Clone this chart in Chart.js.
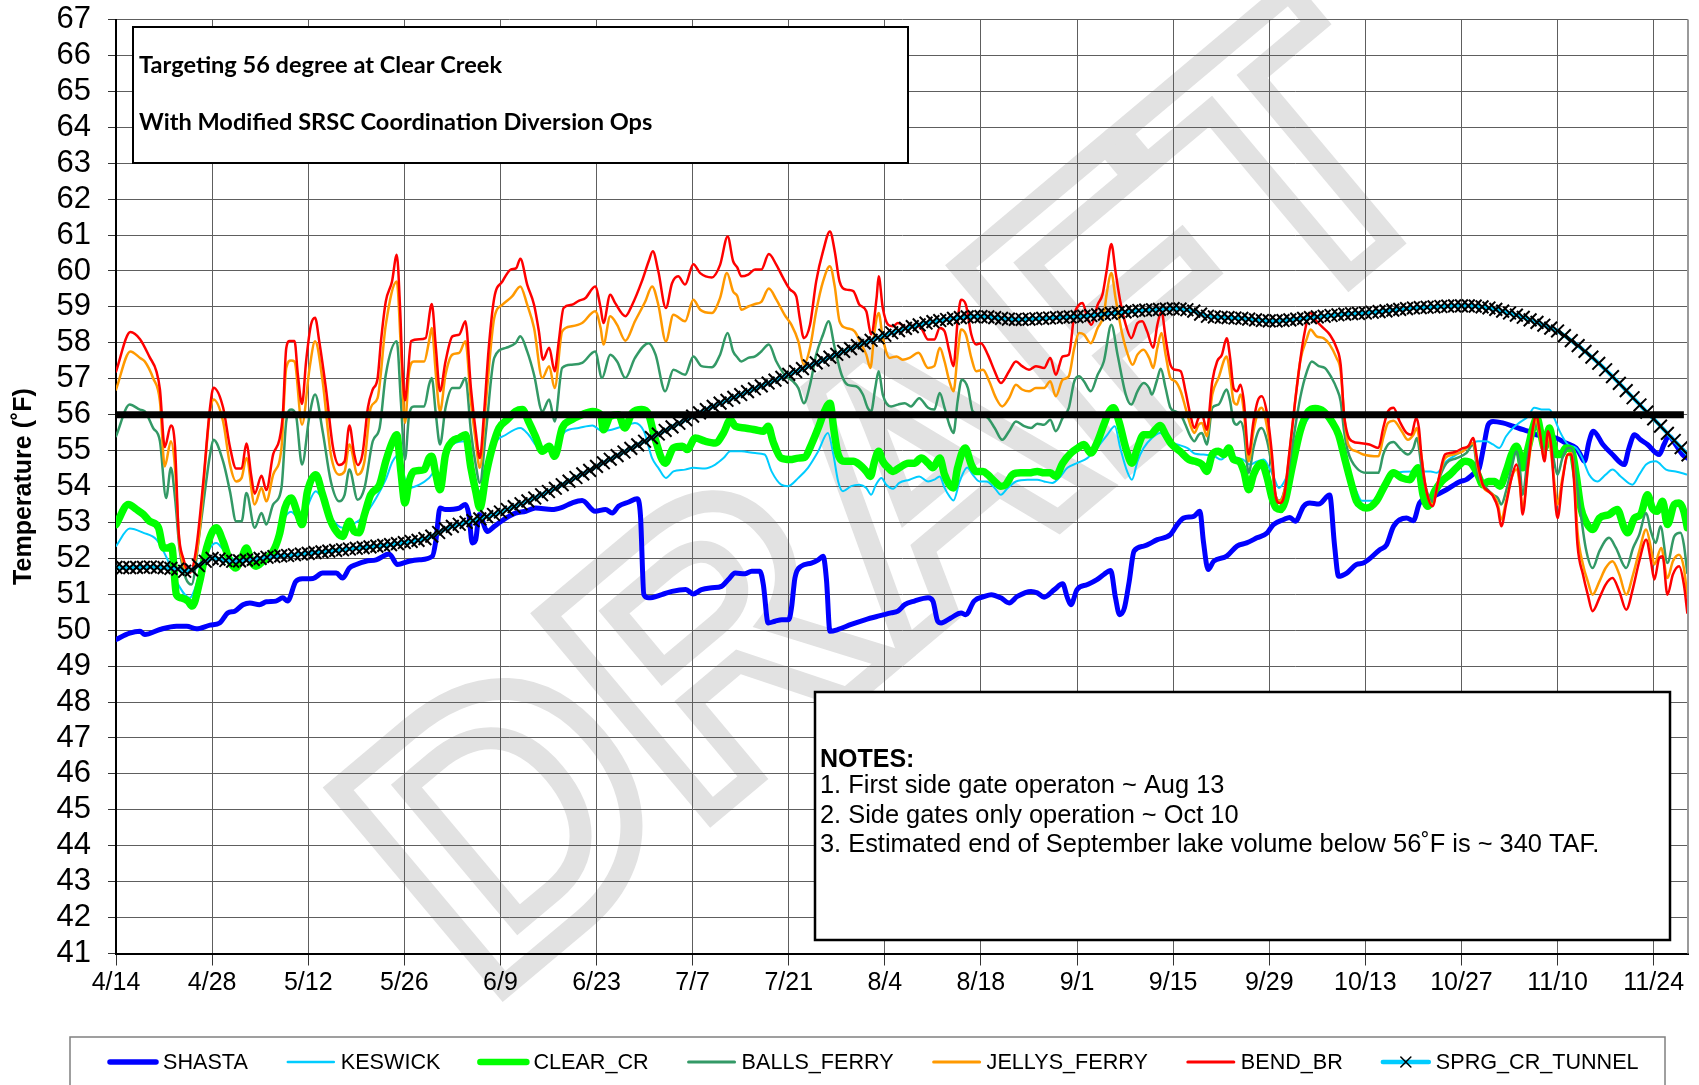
<!DOCTYPE html>
<html>
<head>
<meta charset="utf-8">
<title>Temperature forecast</title>
<script src="https://cdn.jsdelivr.net/npm/chart.js@4.4.1/dist/chart.umd.min.js"></script>
<style>
  html, body { margin: 0; padding: 0; background: #ffffff; }
  canvas { display: block; }
</style>
</head>
<body>
<canvas id="chart" width="1699" height="1085"></canvas>
<script>
// ---------------- DATA ----------------
// x values are days after 4/14 (day 0 = 4/14)
const tickDays   = [0, 14, 28, 42, 56, 70, 84, 98, 112, 126, 140, 154, 168, 182, 196, 210, 224];
const tickLabels = ['4/14','4/28','5/12','5/26','6/9','6/23','7/7','7/21','8/4','8/18','9/1','9/15','9/29','10/13','10/27','11/10','11/24'];
const yTickValues = [41,42,43,44,45,46,47,48,49,50,51,52,53,54,55,56,57,58,59,60,61,62,63,64,65,66,67];

const seriesNames = ['SHASTA','KESWICK','CLEAR_CR','BALLS_FERRY','JELLYS_FERRY','BEND_BR','SPRG_CR_TUNNEL'];

const SHASTA = [[0,49.74],[2,49.92],[3.5,49.97],[4.2,49.88],[6.4,50.02],[8.8,50.11],[10.3,50.11],[11.7,50.04],[13.7,50.14],[15.1,50.2],[16.3,50.48],[17.3,50.53],[18.5,50.71],[19.5,50.76],[20.9,50.71],[21.9,50.79],[23.3,50.81],[24.3,50.9],[25,50.81],[26.2,51.36],[27.2,51.43],[28.7,51.44],[30.1,51.59],[32.1,51.59],[33,51.45],[34,51.73],[35,51.83],[36.4,51.92],[37.9,51.96],[39.8,52.12],[41,51.83],[42.7,51.92],[44.2,51.96],[46.1,52.06],[46.6,52.5],[47.2,53.4],[48,53.36],[50,53.4],[50.9,53.5],[51.4,53.22],[51.9,52.43],[52.4,52.52],[52.9,53.22],[54.1,52.75],[55.1,52.89],[56.8,53.12],[58.2,53.26],[59.7,53.31],[61.1,53.4],[63.5,53.36],[65,53.42],[66.4,53.54],[67.9,53.61],[69.8,53.31],[71.3,53.36],[72.3,53.26],[73.2,53.45],[74.7,53.57],[75.9,53.66],[76.4,53.2],[76.9,50.99],[77.6,50.9],[79.5,50.99],[81,51.08],[83,51.13],[84.1,51.01],[85.3,51.13],[86.8,51.18],[88.2,51.22],[89.2,51.41],[90.2,51.59],[91.6,51.57],[92.6,51.64],[93.8,51.64],[94.3,51.27],[95,50.2],[96,50.25],[97,50.29],[98,50.29],[98.4,50.62],[98.9,51.45],[99.8,51.78],[101.3,51.87],[102.3,51.96],[103,52.06],[103.5,51.4],[104,49.97],[105.2,50.02],[107.1,50.16],[109.1,50.29],[111,50.39],[112.9,50.48],[113.9,50.53],[114.9,50.71],[116.3,50.81],[118.3,50.9],[119,50.81],[119.7,50.25],[120.2,50.2],[121.6,50.34],[123.1,50.48],[123.8,50.43],[125,50.81],[126.5,50.94],[127.5,50.99],[128.9,50.9],[130.1,50.76],[131.3,50.94],[133.3,51.08],[134.2,51.04],[135.2,50.92],[136.7,51.13],[137.9,51.29],[138.6,50.9],[139.1,50.71],[140,51.13],[141.5,51.27],[142.9,51.41],[143.9,51.55],[144.9,51.66],[145.6,50.9],[146.2,50.43],[146.9,50.62],[147.6,51.36],[148.3,52.2],[149.7,52.34],[151.7,52.52],[153.6,52.66],[154.6,52.94],[155.5,53.12],[157,53.17],[157.9,53.31],[158.4,52.48],[159.1,51.69],[159.9,51.92],[161.8,52.06],[163.3,52.34],[164.7,52.43],[166.2,52.57],[167.7,52.71],[168.6,52.94],[170.1,53.08],[171,53.14],[171.8,53.03],[173,53.45],[173.9,53.54],[175.2,53.51],[176.8,53.76],[177.5,52.38],[178.1,51.5],[179.3,51.59],[180.7,51.83],[181.7,51.87],[184.1,52.24],[185.1,52.38],[186.1,52.89],[188,53.12],[189,53.05],[189.9,53.54],[191.9,53.73],[193.8,53.91],[195.8,54.14],[196.7,54.19],[197.9,54.38],[198.6,54.52],[199.2,55.07],[199.9,55.72],[200.6,55.81],[202,55.77],[203.5,55.68],[205,55.58],[205.7,55.54],[206.9,55.44],[208.3,55.4],[209.8,55.35],[211.2,55.21],[212.7,55.07],[213.2,54.93],[213.9,54.7],[214.6,55.26],[215.2,55.54],[216.6,55.17],[218,54.89],[219.7,54.61],[220.4,55.07],[221.2,55.44],[222.1,55.3],[223.1,55.17],[224.8,54.89],[225.5,55.17],[226.2,55.4],[227.2,55.17],[228.2,54.89],[228.9,54.79]];

const KESWICK = [[0,52.34],[2,52.83],[4,52.71],[5.9,52.52],[7.4,52.01],[8.8,51.36],[10.75,50.9],[12.2,51.55],[13.7,52.29],[14.6,52.43],[16,52.15],[17.5,51.95],[19,52.05],[20.5,51.95],[22,52.1],[23.5,52.5],[24.5,53.1],[25.5,53.3],[26.5,53.15],[27.5,53.3],[29.1,53.87],[30.2,53.6],[31.5,53.1],[33,52.85],[34.5,52.95],[36,53.15],[37.9,53.68],[39.3,54.2],[40.3,54.7],[41.3,54.89],[42.1,54.2],[42.7,53.96],[44.2,54.05],[45.6,54.24],[46.5,54.42],[47.2,54.2],[48,54.7],[49,55.17],[50.9,55.26],[51.8,54.6],[53,53.87],[54,54.5],[55.1,55.17],[56.8,55.44],[58.9,55.63],[60.1,55.44],[61.6,55.07],[63.5,55.03],[65.5,55.54],[67.4,55.63],[69.4,55.7],[70.8,55.54],[72.2,55.58],[74.2,55.7],[75.6,55.77],[76.9,55.54],[78.1,54.79],[79,54.52],[80.1,54.24],[81.2,54.42],[82.9,54.47],[84.1,54.52],[85.8,54.5],[87.3,54.61],[88.5,54.79],[89.5,54.98],[91.1,54.98],[93.1,54.93],[94.5,54.89],[95.5,54.42],[96.9,54.05],[97.9,54.01],[99.4,54.24],[100.8,54.52],[102.3,54.98],[103.7,55.49],[104.5,54.89],[105.2,54.14],[105.9,53.87],[107.1,54.01],[108.3,54.05],[109.3,53.96],[110,53.77],[110.7,54.05],[111.5,54.24],[112.2,54.05],[113.2,53.94],[114.1,54.1],[115.6,54.19],[117,54.28],[118.3,54.14],[119.2,54.19],[120,54.28],[120.7,53.96],[121.4,53.73],[122,53.61],[122.9,54.14],[124,54.53],[124.8,54.33],[125.8,54.14],[126.8,54.14],[128,53.96],[128.9,53.77],[129.9,53.96],[131.1,54.14],[132.8,54.19],[134.2,54.19],[135.2,54.14],[136.4,54.1],[137.4,54.24],[138.6,54.52],[140,54.65],[141.5,54.79],[142.9,55.07],[144.4,55.44],[145.5,55.68],[146.3,55.07],[147.3,54.42],[148,54.19],[148.8,54.7],[149.7,55.07],[150.9,55.35],[152.1,55.49],[153.4,55.26],[154.6,55.17],[156.1,55.07],[157.2,54.91],[158.4,54.89],[160,54.84],[161,54.75],[162,54.89],[163.3,54.8],[164.2,54.75],[165.2,54.61],[166.2,54.7],[167.2,54.75],[168,54.52],[168.7,54.24],[169.4,53.96],[170.2,54.14],[171.2,54.61],[172.2,55.26],[173.4,55.81],[174.9,56.09],[175.9,56.07],[176.8,55.91],[177.8,55.54],[179,54.89],[180,54.24],[180.7,53.87],[181.5,53.6],[183,53.6],[184.5,54.0],[186.5,54.38],[189,54.42],[191.5,54.42],[192.4,54.38],[193.8,54.7],[195.3,54.89],[196.7,55.07],[198.4,55.26],[199.6,55.26],[200.6,55.17],[201.5,55.07],[202.5,55.4],[203.5,55.63],[204.4,55.77],[205.7,55.95],[206.6,56.19],[207.9,56.14],[208.8,56.14],[209.5,55.91],[210.3,55.54],[211.5,55.17],[212.7,55.07],[213.6,54.79],[214.6,54.33],[215.8,54.14],[217,54.33],[218,54.47],[219.2,54.28],[220.9,54.05],[221.9,54.33],[222.9,54.61],[224.3,54.7],[225.8,54.47],[227.2,54.42],[228.9,54.33]];

const CLEAR_CR = [[0,52.94],[1.8,53.5],[3,53.36],[4,53.22],[4.9,53.03],[6.2,52.85],[6.9,52.29],[7.6,52.29],[8.1,52.34],[8.8,50.99],[9.5,50.9],[10.5,50.81],[11.1,50.67],[12.2,51.36],[13.2,52.29],[14.6,52.85],[15.6,52.47],[16.6,51.92],[17.4,51.73],[18.3,52.01],[19,52.29],[19.7,51.92],[20.4,51.78],[21.4,51.92],[22.9,52.2],[23.8,52.66],[24.6,53.4],[25.5,53.68],[26.5,53.22],[27.1,52.94],[27.9,53.87],[29.1,54.33],[30.1,53.77],[31.3,53.03],[32.5,52.66],[33,52.61],[34,53.03],[34.7,52.75],[35.4,52.71],[36.2,53.22],[37.1,53.77],[38.4,54.05],[39.3,54.7],[40.3,55.26],[40.9,55.44],[41.5,54.42],[42.1,53.54],[42.7,54.14],[43.4,54.42],[44.9,54.47],[45.6,54.79],[46,54.84],[46.6,54.33],[47.2,53.91],[48,54.89],[49,55.26],[50,55.35],[50.9,55.44],[51.7,54.52],[52.4,53.87],[53,53.4],[53.9,54.33],[54.8,55.07],[55.8,55.63],[57,55.86],[58.2,56.09],[59.2,56.14],[60.1,55.81],[61.1,55.4],[62.1,54.98],[63.1,55.12],[63.9,54.84],[65,55.63],[66.4,55.86],[67.9,56],[69.4,56.09],[70.6,56],[71,55.58],[72,55.95],[73.2,56],[74.1,55.63],[75.2,56.05],[76.6,56.14],[77.6,56],[78.5,55.35],[80,54.65],[81.2,55.07],[82.5,55.12],[83.2,55.03],[84.4,55.35],[85.8,55.26],[87.3,55.21],[88.5,55.49],[89.5,55.86],[90.2,55.68],[91.6,55.63],[93.1,55.58],[94.3,55.54],[95,55.68],[95.7,55.26],[96.9,54.79],[98.2,54.75],[99.4,54.79],[100.3,54.81],[101.3,55.17],[102.3,55.63],[103.2,56.09],[104,56.32],[104.6,55.54],[105.2,54.89],[106.2,54.7],[107.4,54.7],[108.3,54.61],[109.3,54.42],[109.9,54.28],[110.5,54.7],[111.1,54.98],[111.7,54.7],[112.5,54.52],[113.2,54.42],[114.1,54.52],[115.4,54.65],[116.3,54.65],[117.3,54.79],[118.3,54.65],[119,54.52],[120,54.79],[120.7,54.33],[121.4,54.05],[122,53.96],[122.6,54.52],[123.7,55.07],[124.6,54.61],[125.3,54.42],[126.3,54.42],[127,54.33],[128,54.14],[128.9,54.01],[129.6,54.05],[130.6,54.33],[131.8,54.38],[133,54.38],[134.2,54.42],[135.2,54.38],[136.1,54.38],[136.9,54.28],[137.9,54.65],[139.1,54.93],[140.1,55.07],[141,55.17],[142,54.93],[143,55.26],[143.9,55.72],[144.7,56.09],[145.3,56.19],[146.1,55.81],[147.1,55.07],[148,54.65],[148.8,55.07],[149.7,55.44],[150.7,55.44],[151.4,55.58],[152.1,55.7],[152.9,55.44],[153.8,55.17],[155,54.98],[156.3,54.75],[157.2,54.7],[158.2,54.61],[158.9,54.42],[159.7,54.89],[160.6,54.98],[161.4,54.89],[162.1,55.07],[162.8,54.75],[163.6,54.7],[164.3,54.42],[165,53.91],[165.7,54.33],[166.5,54.61],[166.9,54.65],[167.7,54.24],[168.4,53.68],[169,53.4],[169.7,53.36],[170.3,53.59],[171.3,54.51],[172.5,55.54],[173.7,56.09],[174.7,56.17],[175.9,56.09],[177.1,55.81],[178.1,55.44],[179.1,54.7],[180,54.05],[180.7,53.6],[181.4,53.45],[182.2,53.4],[183.6,53.59],[184.9,54.05],[186.1,54.38],[187.3,54.24],[188.5,54.19],[189.2,54.42],[189.7,54.52],[190.4,53.77],[191.1,53.45],[192.1,53.87],[193.1,54.14],[194.3,54.33],[195.3,54.52],[196.5,54.7],[197.4,54.65],[198.4,54.33],[199.1,54.05],[199.9,54.14],[200.8,54.14],[201.6,54.01],[202.5,54.42],[203.3,54.89],[204,55.12],[204.5,54.89],[204.9,54.52],[205.7,55.07],[206.4,55.63],[207,55.91],[207.6,55.44],[208.1,55.07],[208.8,55.63],[209.3,55.26],[209.8,54.89],[210.5,54.89],[211.2,55.07],[212,55.03],[212.7,54.33],[213.4,53.4],[214.1,53.03],[215.1,52.8],[216.1,53.12],[217.5,53.22],[218.7,53.36],[219.7,52.85],[220.2,52.71],[221.2,53.12],[222.1,53.22],[223.1,53.77],[223.8,53.4],[224.5,53.31],[225.3,53.59],[226,52.94],[227,53.5],[227.7,53.54],[228.4,53.31],[228.9,52.85]];

const BALLS_FERRY = [[0,55.4],[2,56.28],[3.5,56.14],[4.2,56.09],[5.4,55.63],[6.4,55.26],[7.3,53.68],[8,54.52],[8.6,53.68],[9.3,52.2],[11,51.27],[12.2,52.75],[13.7,54.89],[14.2,55.3],[15.6,54.7],[16.6,53.87],[17.5,53.03],[18.3,53.03],[19,53.82],[20.2,52.85],[21.2,53.26],[21.9,52.94],[22.9,53.5],[24.1,53.96],[24.8,55.81],[25.5,56.14],[26.2,56],[27.1,54.61],[28.2,56],[29,56.56],[30.1,55.54],[31.3,54.14],[32.5,53.59],[33.3,53.77],[34,54.47],[35.2,53.63],[36.2,53.96],[37.4,55.26],[38.4,55.63],[39.3,57.11],[40.9,58.04],[41.5,56.37],[42.1,54.75],[42.7,56],[43.4,56.23],[44.9,56.23],[45.6,56.83],[46,57.02],[46.6,56],[47.2,55.17],[48,56.19],[49,56.74],[50,56.74],[50.9,57.02],[51.7,55.54],[52.4,54.61],[53,54.1],[53.9,55.54],[55.1,57.58],[56.8,57.86],[58.2,57.99],[58.9,58.18],[59.9,57.76],[60.9,57.11],[62.1,56.09],[63.1,56.42],[63.9,55.81],[65,57.3],[66.4,57.39],[67.9,57.44],[69.8,57.76],[70.8,57.02],[72,57.67],[73,57.48],[74.2,57.02],[75.6,57.58],[77.6,57.99],[78.6,57.67],[80,56.65],[81.2,57.25],[82.9,57.11],[84.1,57.62],[85.3,57.35],[86.8,57.32],[88,57.67],[89.1,58.27],[89.9,57.76],[90.5,57.6],[91.1,57.48],[92.1,57.58],[93.1,57.62],[94,57.76],[95.1,57.95],[96.2,57.48],[97.4,57.11],[98.6,56.93],[99.4,56.74],[100.2,56.32],[101.1,56.83],[102,57.67],[103,58.23],[103.8,58.6],[104.7,57.86],[105.7,57.11],[106.6,56.83],[107.8,56.79],[108.8,56.56],[109.5,56.19],[110,56.09],[110.6,56.74],[111.1,57.21],[111.7,56.56],[112.9,56.23],[113.9,56.28],[114.9,56.32],[115.8,56.23],[117,56.46],[118.3,56.19],[119.2,56.14],[120,56.6],[120.7,56.19],[121.4,55.72],[122,55.49],[122.6,56.37],[123.2,56.97],[124.1,56.74],[124.8,56.09],[126,56],[127,55.91],[128,55.63],[129.1,55.3],[130.1,55.54],[131.1,55.81],[132.3,55.68],[133.3,55.63],[134.2,55.75],[135.2,55.72],[136.1,55.86],[136.9,55.54],[137.9,55.91],[138.8,56.19],[139.6,56.93],[140.3,57.07],[141,56.93],[142,56.65],[143,57.11],[143.9,57.48],[145,58.5],[145.9,57.67],[147.1,56.56],[147.9,56.28],[148.8,56.65],[149.7,56.88],[150.5,56.74],[150.9,56.56],[151.6,56.93],[152.2,57.28],[152.9,56.74],[153.6,56.19],[154.3,56.09],[155.1,56],[155.8,55.72],[156.5,55.4],[157.1,55.26],[157.7,55.44],[158.2,55.49],[158.9,55.17],[159.7,56.19],[160.6,56.28],[161.8,56.7],[162.3,56.37],[162.8,55.81],[163.3,55.72],[163.8,55.81],[164.3,55.54],[165,54.38],[165.7,55.07],[166.4,55.54],[166.9,55.63],[167.7,55.26],[168.4,54.52],[168.9,53.77],[169.5,53.61],[170.3,53.96],[171.3,55.07],[172.5,56.46],[173.5,57.21],[174.2,57.48],[175.2,57.35],[176.1,57.3],[177.1,57.02],[177.8,56.74],[178.4,56.37],[178.9,55.54],[179.5,54.95],[180.8,54.5],[182.2,54.38],[183.9,54.38],[184.6,54.89],[185.3,55.17],[186.1,55.24],[187,55.07],[188.2,54.89],[189,55.07],[189.5,55.35],[190.2,54.52],[191.1,53.77],[191.8,53.59],[192.6,54.14],[193.8,54.65],[195.3,54.79],[196.7,54.93],[197.7,55.17],[198.4,54.33],[199.6,53.96],[200.6,53.77],[201.3,53.68],[201.8,53.5],[202.5,53.87],[203.3,54.52],[204,54.98],[204.5,54.52],[204.9,53.77],[205.7,54.89],[206.4,55.54],[206.9,55.72],[207.6,55.26],[208.1,54.89],[208.6,55.54],[209.3,54.89],[210,54.33],[210.7,54.79],[211.5,55.07],[212,55.07],[212.7,54.24],[213.4,53.2],[214.1,52.29],[215.1,51.73],[216.1,52.2],[217.5,52.57],[218.5,52.29],[220,51.73],[221,52.29],[221.9,52.66],[222.9,53.26],[223.6,52.75],[224.3,52.43],[225,52.89],[226,51.87],[227,52.61],[227.9,52.71],[228.4,52.38],[228.9,51.59]];

const JELLYS_FERRY = [[0,56.7],[2.1,57.76],[3.5,57.58],[4.2,57.48],[5.4,57.02],[6.4,56.37],[7.1,54.56],[8,55.26],[8.6,54.52],[9.3,52.29],[10.8,51.64],[12,52.47],[13.7,56.09],[14.2,56.42],[15.6,55.81],[16.6,54.61],[17.5,54.14],[18.3,54.24],[19,54.79],[20.2,53.5],[21.2,53.96],[21.9,53.59],[22.9,54.33],[24.1,55.07],[24.8,57.3],[25.5,57.51],[26,57.48],[27.1,55.72],[28.2,57.3],[29,58.04],[30.1,56.93],[31.3,54.89],[32.5,54.33],[33.3,54.42],[34,55.17],[35.2,54.33],[36.2,54.7],[37.1,56.19],[38.1,56.46],[39.3,58.5],[40.9,59.71],[41.5,57.86],[42.1,55.77],[42.7,57.21],[43.4,57.48],[44.9,57.48],[45.6,58.04],[46,58.41],[46.6,57.11],[47.2,56.09],[48,57.11],[49,57.67],[50,57.72],[50.9,58.04],[51.7,56.37],[52.4,55.26],[53,54.52],[53.9,56.37],[55.1,58.69],[56.3,59.06],[57.7,59.29],[58.9,59.57],[59.9,59.06],[60.9,58.41],[62.1,57.02],[63.1,57.35],[63.9,56.74],[65,58.32],[66.4,58.46],[67.9,58.55],[69.8,58.88],[70.6,58.41],[71,57.95],[72,58.74],[73,58.5],[74.2,58.06],[75.6,58.6],[77.1,59.15],[78.1,59.57],[79,59.06],[80.1,58.04],[81.2,58.78],[82.9,58.6],[84.1,59.2],[85.1,58.92],[86.8,58.83],[88,59.25],[89,59.94],[89.9,59.43],[90.5,59.3],[91.1,58.92],[92.1,59.01],[93.1,59.08],[94,59.14],[95.1,59.51],[96.2,59.2],[97.4,58.78],[98.4,58.5],[99.4,58.04],[100.2,57.39],[101.1,57.86],[102,58.88],[103,59.71],[104,60.13],[104.7,59.57],[105.4,58.6],[106.4,58.41],[107.6,58.32],[108.6,57.95],[109.3,57.67],[109.9,57.3],[110.5,58.32],[111.1,58.83],[111.7,58.13],[112.7,57.58],[113.7,57.62],[114.6,57.53],[115.6,57.58],[116.9,57.72],[118.3,57.3],[119.2,57.35],[120,57.86],[120.7,57.48],[121.4,56.93],[122,56.65],[122.6,57.67],[123.1,58.37],[123.8,58.23],[124.6,57.58],[125.3,57.21],[126.3,57.25],[127.2,56.93],[128.2,56.46],[129.1,56.23],[130.1,56.46],[131.1,56.83],[132,56.7],[133,56.65],[134,56.74],[135.2,56.74],[136.1,56.93],[136.9,56.51],[137.9,56.97],[138.8,57.07],[139.6,57.86],[140.3,58.27],[141,58.23],[142,57.99],[143,58.41],[143.9,58.78],[144.3,59.34],[145,59.94],[145.6,59.25],[146.6,58.23],[147.4,57.67],[148.1,57.39],[148.8,57.67],[149.7,57.81],[150.5,57.58],[151.1,57.3],[151.7,57.86],[152.3,58.27],[152.9,57.67],[153.6,57.02],[154.3,56.93],[155.1,56.65],[155.8,56.19],[156.5,55.72],[157.1,55.49],[157.7,55.72],[158.2,55.77],[158.9,55.4],[159.7,56.56],[160.6,57.02],[161.8,57.62],[162.3,57.11],[162.8,56.37],[163.3,56.28],[163.8,56.56],[164.3,56.09],[165,54.7],[165.7,55.54],[166.4,56.09],[166.9,56.19],[167.7,55.63],[168.4,54.7],[168.9,53.77],[169.5,53.59],[170.3,53.96],[171.3,55.54],[172.5,57.48],[173.5,58.13],[174,58.37],[174.9,58.18],[175.9,58.13],[176.8,57.95],[177.8,57.58],[178.4,57.21],[178.9,56],[179.5,55.17],[180.7,54.98],[181.7,54.89],[183.9,54.84],[184.6,55.35],[185.3,55.77],[186.1,55.83],[187.3,55.54],[188.2,55.3],[189,55.44],[189.5,55.63],[190,55.07],[190.9,53.87],[191.8,53.5],[192.6,54.14],[193.6,54.79],[194.8,54.89],[196.2,54.98],[197.7,55.21],[198.4,54.52],[199.1,54.01],[200.6,53.77],[201.3,53.5],[201.8,53.08],[202.5,53.59],[203.3,54.24],[204,54.47],[204.5,54.05],[204.9,53.4],[205.7,54.52],[206.4,55.54],[206.9,55.86],[207.4,55.44],[208.1,54.79],[208.6,55.44],[209.3,54.52],[210,53.5],[210.7,54.24],[211.5,54.89],[212,54.93],[212.4,54.33],[212.9,52.75],[213.7,51.83],[214.4,51.36],[215.1,50.99],[216.1,51.36],[217,51.73],[218,51.92],[219,51.55],[220,50.99],[221,51.55],[221.9,52.2],[222.9,52.8],[223.6,52.29],[224.1,51.83],[225.1,52.29],[226,51.45],[226.8,51.92],[227.7,52.1],[228.4,51.73],[228.9,50.94]];

const BEND_BR = [[0,57.2],[2.1,58.3],[3.5,58.1],[4.9,57.6],[5.9,57.2],[6.4,56.7],[7.1,55.1],[8,55.7],[8.6,55.1],[9.1,52.8],[9.8,52],[10.8,51.6],[11.7,52.3],[12.7,54.1],[13.7,56.2],[14.2,56.75],[15.6,56.2],[16.6,55.1],[17.5,54.5],[18.3,54.5],[19,55.2],[19.7,54.3],[20.2,53.8],[21.2,54.3],[21.9,53.9],[22.9,54.9],[23.8,55.3],[24.3,56],[24.8,57.85],[25.3,58.05],[26,58.05],[26.5,57.1],[27.1,56.3],[27.7,57.5],[28.4,58.5],[29,58.7],[29.6,58.05],[30.6,56.7],[31.6,55.1],[32.5,54.6],[33.3,54.7],[34,55.7],[34.7,54.9],[35.2,54.6],[35.9,54.9],[36.7,56.2],[37.4,56.7],[38.1,57],[38.6,58.05],[39.3,59.15],[40.2,59.7],[40.9,60.45],[41.4,58.9],[41.7,57.4],[42.1,56.4],[42.5,57.1],[43,58.05],[44.2,58.1],[45.1,58.13],[46,59.08],[46.6,57.86],[47.2,56.65],[48,57.48],[49,58.18],[50,58.23],[50.9,58.6],[51.7,56.74],[52.4,55.54],[53,54.79],[53.6,56],[54.3,57.86],[55.1,59.25],[56.3,59.71],[57.5,60.04],[58.3,60.08],[58.9,60.34],[59.9,59.62],[60.9,59.06],[61.6,58.32],[62.2,57.53],[63.1,57.86],[63.9,57.21],[64.5,58.04],[65.2,58.97],[66.4,59.06],[67.4,59.17],[68.4,59.25],[69.8,59.57],[70.6,58.97],[71,58.55],[72,59.34],[72.7,59.11],[74.2,58.74],[75.2,59.06],[76.6,59.71],[77.6,60.27],[78.2,60.55],[79,59.99],[80.1,58.97],[81,59.66],[81.9,59.85],[82.9,59.62],[84.1,60.19],[85.1,59.94],[86.8,59.82],[88,60.17],[89.1,60.96],[89.9,60.27],[90.5,60.1],[91.1,59.85],[92.1,59.9],[93.1,60.04],[94,60.04],[95.1,60.47],[96.2,60.17],[97.2,59.8],[98.2,59.48],[99.1,59.29],[99.6,58.69],[100.2,58.13],[101.1,58.5],[102,59.71],[103,60.55],[104,61.1],[104.7,60.55],[105.4,59.71],[106.4,59.48],[107.4,59.44],[108.3,59.06],[109.3,58.88],[110,58.23],[110.8,59.25],[111.1,59.85],[111.7,58.97],[112.5,58.5],[113.2,58.46],[113.9,58.55],[115.4,58.41],[116.3,58.5],[117.3,58.41],[118.3,58.09],[119.2,58.09],[120,58.41],[120.7,58.32],[121.4,57.76],[122,57.35],[122.6,58.6],[123.1,59.2],[123.8,59.06],[124.6,58.23],[125.3,57.95],[126,57.99],[127,57.67],[128,57.21],[128.9,56.88],[130.1,57.21],[131.1,57.48],[132,57.35],[133,57.25],[134,57.35],[135.2,57.3],[136.1,57.58],[136.9,57.11],[137.9,57.62],[138.8,57.67],[139.6,58.78],[140.3,59.06],[140.8,59.11],[141.5,58.69],[142.1,58.5],[143,59.06],[143.7,59.34],[144.3,59.99],[145,60.75],[145.6,59.99],[146.3,59.15],[147.1,58.5],[147.9,58.13],[148.8,58.55],[149.5,58.6],[150.2,58.32],[151.1,57.86],[151.7,58.5],[152.3,58.88],[152.9,58.13],[153.6,57.39],[154.3,57.25],[155.1,57.21],[155.8,56.65],[156.5,56],[157.1,55.63],[157.7,55.91],[158.2,56],[158.9,55.58],[159.7,56.93],[160.4,57.48],[161.1,57.67],[161.8,58.13],[162.3,57.58],[162.8,56.74],[163.3,56.65],[163.8,56.83],[164.3,56.37],[165,54.89],[165.7,55.81],[166.3,56.37],[166.9,56.51],[167.7,56],[168.4,54.89],[168.9,53.77],[169.5,53.54],[170.2,53.77],[171,55.07],[172,56.74],[173,58.13],[174,58.83],[174.9,58.6],[175.9,58.41],[176.8,58.23],[177.8,57.86],[178.4,57.39],[178.9,56],[179.5,55.4],[180.2,55.25],[181.2,55.21],[182.6,55.17],[183.9,55.07],[184.6,55.63],[185.3,56.09],[186.1,56.19],[187,55.81],[188,55.49],[188.7,55.44],[189.4,55.91],[189.8,55.63],[190.2,54.79],[190.9,53.87],[191.8,53.45],[192.6,54.14],[193.6,54.89],[194.3,54.93],[195.3,54.98],[196.2,55.07],[197,55.12],[197.7,55.35],[198.4,54.61],[199.1,54.05],[199.9,53.87],[200.6,53.73],[201.3,53.4],[201.8,52.89],[202.5,53.5],[203.3,54.24],[204,54.61],[204.5,54.14],[204.9,53.22],[205.7,54.61],[206.4,55.63],[206.9,56],[207.4,55.54],[208.1,54.7],[208.6,55.54],[209.1,55.07],[209.5,53.96],[210,53.12],[210.7,54.14],[211.5,54.89],[212,54.89],[212.4,54.14],[212.9,52.38],[213.7,51.55],[214.4,50.99],[215.1,50.53],[216.1,50.9],[217,51.27],[218,51.45],[219,51.08],[220,50.57],[221,51.18],[221.9,51.92],[222.9,52.52],[223.6,51.92],[224.1,51.41],[224.8,52.01],[225.3,52.06],[226,50.99],[226.8,51.55],[227.7,51.78],[228.4,51.27],[228.9,50.48]];

// daily values, day 0 (4/14) .. day 229
const SPRG_CR_TUNNEL = [
51.75,51.74,51.74,51.75,51.75,51.76,51.75,51.74,51.72,51.70,
51.64,51.68,51.80,51.92,52.00,51.98,51.94,51.92,51.93,51.95,
51.97,52.00,52.03,52.05,52.07,52.08,52.10,52.12,52.14,52.16,
52.18,52.20,52.22,52.24,52.26,52.28,52.30,52.32,52.34,52.36,
52.38,52.41,52.44,52.47,52.50,52.55,52.62,52.72,52.82,52.89,
52.95,53.00,53.05,53.10,53.16,53.22,53.29,53.36,53.44,53.52,
53.60,53.68,53.77,53.86,53.95,54.05,54.15,54.25,54.35,54.45,
54.56,54.66,54.76,54.86,54.96,55.06,55.16,55.26,55.36,55.46,
55.56,55.66,55.76,55.86,55.96,56.05,56.14,56.23,56.32,56.40,
56.48,56.56,56.64,56.72,56.80,56.88,56.96,57.04,57.12,57.20,
57.28,57.36,57.44,57.52,57.60,57.68,57.76,57.84,57.92,58.00,
58.07,58.14,58.21,58.28,58.34,58.40,58.45,58.50,58.55,58.59,
58.62,58.65,58.68,58.70,58.72,58.73,58.73,58.72,58.70,58.68,
58.66,58.65,58.65,58.66,58.67,58.68,58.69,58.70,58.71,58.72,
58.73,58.74,58.76,58.78,58.80,58.82,58.84,58.86,58.88,58.90,
58.91,58.92,58.93,58.94,58.95,58.94,58.92,58.88,58.80,58.74,
58.72,58.71,58.70,58.69,58.68,58.66,58.64,58.62,58.61,58.61,
58.62,58.64,58.66,58.68,58.70,58.72,58.74,58.76,58.78,58.80,
58.81,58.82,58.83,58.85,58.87,58.89,58.91,58.93,58.95,58.97,
58.98,58.99,59.00,59.01,59.02,59.03,59.03,59.03,59.02,59.00,
58.97,58.93,58.88,58.83,58.77,58.71,58.64,58.57,58.49,58.41,
58.33,58.20,58.06,57.92,57.76,57.60,57.43,57.25,57.06,56.87,
56.67,56.47,56.27,56.07,55.88,55.68,55.48,55.28,55.08,54.88];

const TARGET_56 = [[0,56],[228.4,56]];

const titleLines = ['Targeting 56 degree at Clear Creek', 'With Modified SRSC Coordination Diversion Ops'];
const notesHeading = 'NOTES:';
const notesLines = ['1. First side gate operaton ~ Aug 13', '2. Side gates only operation ~ Oct 10', '3. Estimated end of September lake volume below 56\u02DAF is ~ 340 TAF.'];
const watermarkText = 'DRAFT';

// ---------------- CHART ----------------
const SANS = "'Liberation Sans', Arial, sans-serif";
const toXY = arr => arr.map(p => ({ x: p[0], y: p[1] }));

function lineDs(label, data, color, width, order) {
  return {
    label, data, borderColor: color, backgroundColor: color, borderWidth: width,
    pointRadius: 0, pointHoverRadius: 0, fill: false,
    cubicInterpolationMode: 'monotone', borderJoinStyle: 'round', borderCapStyle: 'round',
    order
  };
}

const datasets = [
  lineDs(seriesNames[0], toXY(SHASTA), '#0000FF', 5, 7),
  lineDs(seriesNames[1], toXY(KESWICK), '#00CCFF', 2, 6),
  lineDs(seriesNames[2], toXY(CLEAR_CR), '#00FF00', 7.5, 5),
  lineDs(seriesNames[3], toXY(BALLS_FERRY), '#339966', 2.5, 4),
  lineDs(seriesNames[4], toXY(JELLYS_FERRY), '#FF9900', 2.5, 3),
  lineDs(seriesNames[5], toXY(BEND_BR), '#FF0000', 2.5, 2),
  Object.assign(lineDs(seriesNames[6], SPRG_CR_TUNNEL.map((v, i) => ({ x: i, y: v })), '#00CCFF', 4, 1), {
    pointRadius: 9, pointStyle: 'crossRot', pointBorderColor: '#000000', pointBackgroundColor: '#000000', pointBorderWidth: 2
  }),
  Object.assign(lineDs('56 target', toXY(TARGET_56), '#000000', 7, 0), {
    cubicInterpolationMode: 'default', tension: 0, borderCapStyle: 'butt', isTarget: true
  })
];

const decorPlugin = {
  id: 'decor',
  beforeDraw(chart) {
    const ctx = chart.ctx;
    ctx.save();
    ctx.fillStyle = '#ffffff';
    ctx.fillRect(0, 0, chart.width, chart.height);
    // DRAFT watermark
    ctx.translate(905, 515);
    ctx.rotate(-40 * Math.PI / 180);
    ctx.font = "bold 375px " + SANS;
    ctx.textAlign = 'center';
    ctx.textBaseline = 'middle';
    ctx.lineJoin = 'miter';
    ctx.lineWidth = 22;
    ctx.strokeStyle = '#e2e2e2';
    ctx.strokeText(watermarkText, 0, 0);
    ctx.restore();
  },
  afterDraw(chart) {
    const ctx = chart.ctx;
    const area = chart.chartArea;
    ctx.save();
    // right plot border
    ctx.strokeStyle = '#9a9a9a';
    ctx.lineWidth = 2;
    ctx.beginPath();
    ctx.moveTo(area.right, area.top);
    ctx.lineTo(area.right, area.bottom);
    ctx.stroke();

    // title box
    ctx.fillStyle = '#ffffff';
    ctx.fillRect(133, 27, 775, 136);
    ctx.strokeStyle = '#000000';
    ctx.lineWidth = 2;
    ctx.strokeRect(133, 27, 775, 136);
    ctx.fillStyle = '#000000';
    ctx.textAlign = 'left';
    ctx.textBaseline = 'alphabetic';
    ctx.font = "bold 24px Lato, 'Open Sans', sans-serif";
    let w = ctx.measureText(titleLines[0]).width;
    const tSize = 24 * 363 / w;
    ctx.font = "bold " + tSize.toFixed(2) + "px Lato, 'Open Sans', sans-serif";
    ctx.fillText(titleLines[0], 139, 73);
    ctx.fillText(titleLines[1], 139, 130);

    // notes box
    ctx.fillStyle = '#ffffff';
    ctx.fillRect(815, 692, 855, 248);
    ctx.strokeStyle = '#000000';
    ctx.lineWidth = 2.5;
    ctx.strokeRect(815, 692, 855, 248);
    ctx.fillStyle = '#000000';
    ctx.font = "bold 25px " + SANS;
    ctx.fillText(notesHeading, 820, 767);
    ctx.font = "25.4px " + SANS;
    const base = [793, 822.5, 851.5];
    notesLines.forEach((t, i) => ctx.fillText(t, 820, base[i]));

    // legend
    ctx.strokeStyle = '#808080';
    ctx.lineWidth = 1.5;
    ctx.strokeRect(70, 1037, 1595, 70);
    let x = 108;
    const ly = 1062;
    ctx.font = "21.6px " + SANS;
    chart.data.datasets.forEach(ds => {
      if (ds.isTarget) return;
      ctx.strokeStyle = ds.borderColor;
      ctx.lineWidth = Math.min(ds.borderWidth + 0.5, 6.5);
      ctx.lineCap = 'round';
      ctx.beginPath();
      ctx.moveTo(x + 2, ly);
      ctx.lineTo(x + 48, ly);
      ctx.stroke();
      if (ds.pointStyle === 'crossRot') {
        ctx.strokeStyle = '#000000';
        ctx.lineWidth = 1.6;
        const r = 5;
        ctx.beginPath();
        ctx.moveTo(x + 25 - r, ly - r); ctx.lineTo(x + 25 + r, ly + r);
        ctx.moveTo(x + 25 - r, ly + r); ctx.lineTo(x + 25 + r, ly - r);
        ctx.stroke();
      }
      ctx.fillStyle = '#000000';
      ctx.fillText(ds.label, x + 55, 1069);
      x += 55 + ctx.measureText(ds.label).width + 38;
    });
    ctx.restore();
  }
};

new Chart(document.getElementById('chart'), {
  type: 'line',
  data: { datasets },
  options: {
    responsive: false,
    devicePixelRatio: 1,
    animation: false,
    events: [],
    layout: { padding: { top: 19.5, right: 7, bottom: 71.5, left: 0 } },
    plugins: { legend: { display: false }, tooltip: { enabled: false } },
    scales: {
      x: {
        type: 'linear', min: 0, max: 229,
        afterBuildTicks: s => { s.ticks = tickDays.map(v => ({ value: v })); },
        afterFit: s => { s.height = 60; s.paddingLeft = 0; s.paddingRight = 0; },
        ticks: {
          autoSkip: false, maxRotation: 0, padding: 3, color: '#000000',
          font: { family: SANS, size: 25 },
          callback: (v) => { const i = tickDays.indexOf(v); return i >= 0 ? tickLabels[i] : ''; }
        },
        grid: { color: '#5e5e5e', lineWidth: 1, tickLength: 12, tickColor: '#333333', drawTicks: true },
        border: { color: '#000000', width: 2 }
      },
      y: {
        type: 'linear', min: 41, max: 67,
        afterBuildTicks: s => { s.ticks = yTickValues.map(v => ({ value: v })); },
        afterFit: s => { s.width = 116; s.paddingTop = 0; s.paddingBottom = 0; },
        ticks: { autoSkip: false, padding: 17, color: '#000000', font: { family: SANS, size: 31 }, callback: v => String(v) },
        grid: { color: '#5e5e5e', lineWidth: 1, tickLength: 8, tickColor: '#333333', drawTicks: true },
        border: { color: '#000000', width: 2 },
        title: {
          display: true, text: 'Temperature (\u02DAF)', color: '#000000',
          font: { family: SANS, size: 25, weight: 'bold' }, padding: { top: 9, bottom: 0 }
        }
      }
    }
  },
  plugins: [decorPlugin]
});
</script>
</body>
</html>
